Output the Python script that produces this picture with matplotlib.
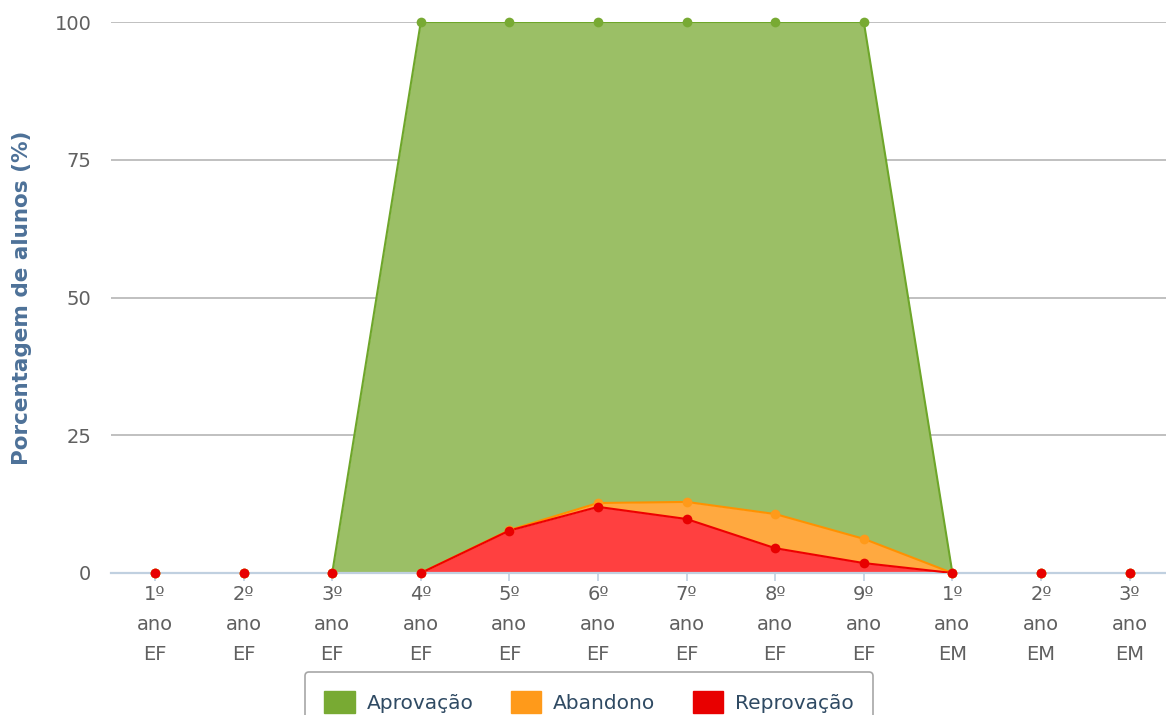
import numpy as np
import matplotlib
matplotlib.use("Agg")
import matplotlib.pyplot as plt
from matplotlib.patches import Patch

# School years
categories = ["1º\nano\nEF", "2º\nano\nEF", "3º\nano\nEF", "4º\nano\nEF", "5º\nano\nEF",
              "6º\nano\nEF", "7º\nano\nEF", "8º\nano\nEF", "9º\nano\nEF", "1º\nano\nEM",
              "2º\nano\nEM", "3º\nano\nEM"]

# Student rates (%) per year, stacked in drawing order
reprovacao = [0, 0, 0, 0, 7.7, 12.0, 9.8, 4.5, 1.8, 0, 0, 0]
abandono = [0, 0, 0, 0, 0.1, 0.7, 3.1, 6.2, 4.4, 0, 0, 0]
aprovacao = [0, 0, 0, 100, 92.2, 87.3, 87.1, 89.3, 93.8, 0, 0, 0]

series_names = ["Aprovação", "Abandono", "Reprovação"]
line_colors = ["#6ea62a", "#ff9100", "#ee0000"]
fill_colors = ["#9bbf66", "#ffa940", "#ff4040"]
marker_colors = ["#78aa33", "#ff9a1a", "#e80000"]

plt.rcParams["font.family"] = ["DejaVu Sans"]

W, H = 1166, 715
fig = plt.figure(figsize=(W / 100, H / 100), dpi=100)

spacing = 88.6
left_px = 155 - spacing / 2
ax = fig.add_axes([left_px / W, (H - 573) / H, 1 - left_px / W, (573 - 22) / H])

x = np.arange(len(categories))
red = np.array(reprovacao, dtype=float)
orange = red + np.array(abandono, dtype=float)
green = orange + np.array(aprovacao, dtype=float)

# Bottom to top: reprovação, abandono, aprovação; draw top series first
layers = [(orange, green), (red, orange), (np.zeros_like(red), red)]
for (lo, hi), lc, fc in zip(layers, line_colors, fill_colors):
    ax.fill_between(x, lo, hi, color=fc, linewidth=0, zorder=2)
    # outline only where the series rises above the baseline
    for i in range(len(x) - 1):
        if hi[i] == 0 and hi[i + 1] == 0:
            continue
        ax.plot(x[i:i + 2], hi[i:i + 2], color=lc, linewidth=1.5, zorder=3,
                solid_capstyle="round")

for (lo, hi), mc in zip(layers, marker_colors):
    ax.plot(x, hi, linestyle="none", marker="o", markersize=7,
            color=mc, markeredgewidth=0, zorder=6, clip_on=False)

right_val = (W - left_px) / spacing - 0.5
ax.set_xlim(-0.5, right_val)
ax.set_ylim(0, 100)
ax.set_yticks([0, 25, 50, 75, 100])
ax.set_xticks(x)
ax.set_xticklabels(categories, linespacing=1.7)

ax.yaxis.grid(True, color="#c0c0c0", linewidth=1.4, zorder=1)
ax.set_axisbelow(True)
for s in ["top", "right", "left"]:
    ax.spines[s].set_visible(False)
ax.spines["bottom"].set_color("#c0d0e0")
ax.spines["bottom"].set_linewidth(1.6)
ax.spines["bottom"].set_zorder(2.5)

ax.tick_params(axis="y", length=0, pad=14, labelsize=14, labelcolor="#606060")
ax.tick_params(axis="x", length=6, width=1.2, color="#c0d0e0", pad=3,
               labelsize=14, labelcolor="#606060")

fig.text(22 / W, (H - 298) / H, "Porcentagem de alunos (%)", rotation=90,
         ha="center", va="center", fontsize=15.5, fontweight="bold", color="#4d7198")

handles = [Patch(facecolor=c, edgecolor=c) for c in marker_colors]
leg = fig.legend(handles, series_names, loc="upper center",
                 bbox_to_anchor=(589 / W, 1 - 672 / H), ncol=3,
                 fontsize=14.5, frameon=True, fancybox=True, handlelength=1.5,
                 handleheight=1.3, handletextpad=0.6, columnspacing=1.85,
                 borderpad=0.95, borderaxespad=0, labelcolor="#2f4a63")
leg.get_frame().set_edgecolor("#909090")
leg.get_frame().set_linewidth(1.2)

fig.savefig("out.png", dpi=100)
